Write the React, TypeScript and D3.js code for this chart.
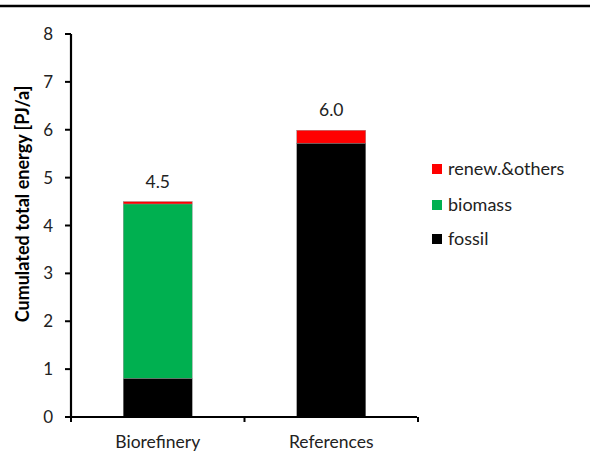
import React from "react";
import * as d3 from "d3";

const categories = ["Biorefinery", "References"];
const fossil = [0.81, 5.72];
const biomass = [3.64, 0];
const renew = [0.05, 0.27];
const totalLabels = ["4.5", "6.0"];
const seriesNames = ["fossil", "biomass", "renew.&others"];
const seriesColors = ["#000000", "#00B050", "#FF0000"];
const yTicks = [0, 1, 2, 3, 4, 5, 6, 7, 8];

const W = 590, H = 457;
const FONT = "Lato, 'Open Sans', sans-serif";

export default function App() {
  const y = d3.scaleLinear().domain([0, 8]).range([417, 34]);
  const rows = categories.map((c, i) => ({ cat: c, fossil: fossil[i], biomass: biomass[i], renew: renew[i] }));
  const stack = d3.stack<any>().keys(["fossil", "biomass", "renew"])(rows);
  const band = 173.5;
  const bw = 69;
  const cx = (c: string) => 71 + band * (categories.indexOf(c) + 0.5);
  const legendY = [169, 205, 239];
  const legendOrder = [2, 1, 0];
  return (
    <div style={{ position: "absolute", left: 0, top: 0, width: W, height: H, background: "#fff" }}>
      <svg width={W} height={H} style={{ display: "block" }}>
        <rect width={W} height={H} fill="#fff" />
        <line x1={0} x2={W} y1={6} y2={6} stroke="#000" strokeWidth={2.5} />
        {stack.map((s, si) =>
          s.map((d, i) => {
            const h = y(d[0]) - y(d[1]);
            if (h <= 0) return null;
            return (
              <rect key={si + "-" + i} x={cx(categories[i]) - bw / 2} y={y(d[1])} width={bw} height={h}
                fill={seriesColors[si]} stroke="#8c8c8c" strokeWidth={0.4} />
            );
          })
        )}
        {categories.map((c, i) => (
          <text key={c} x={cx(c)} y={y(fossil[i] + biomass[i] + renew[i]) - 14} textAnchor="middle"
            fontFamily={FONT} fontSize={17.5} fill="#222">{totalLabels[i]}</text>
        ))}
        {/* y axis */}
        <line x1={71} x2={71} y1={y(8)} y2={y(0)} stroke="#000" strokeWidth={2.2} />
        {yTicks.map(t => (
          <g key={t}>
            <line x1={65} x2={71} y1={y(t)} y2={y(t)} stroke="#000" strokeWidth={2} />
            <text x={53} y={y(t)} dy="0.36em" textAnchor="end" fontFamily={FONT} fontSize={17} fill="#222">{t}</text>
          </g>
        ))}
        {/* x axis */}
        <line x1={70} x2={417} y1={y(0)} y2={y(0)} stroke="#000" strokeWidth={2.2} />
        {[0, 1, 2].map(k => (
          <line key={k} x1={71 + band * k} x2={71 + band * k} y1={y(0)} y2={y(0) + 5} stroke="#000" strokeWidth={2} />
        ))}
        {categories.map(c => (
          <text key={c} x={cx(c)} y={448} textAnchor="middle" fontFamily={FONT} fontSize={17.5} fill="#222">{c}</text>
        ))}
        <text transform={`translate(29,204) rotate(-90)`} textAnchor="middle"
          fontFamily={FONT} fontSize={18} fontWeight="bold" fill="#000">Cumulated total energy [PJ/a]</text>
        {legendOrder.map((si, k) => (
          <g key={si}>
            <rect x={432} y={legendY[k] - 5} width={10} height={10} fill={seriesColors[si]} />
            <text x={448} y={legendY[k]} dy="0.36em" fontFamily={FONT} fontSize={18} fill="#222">{seriesNames[si]}</text>
          </g>
        ))}
      </svg>
    </div>
  );
}
